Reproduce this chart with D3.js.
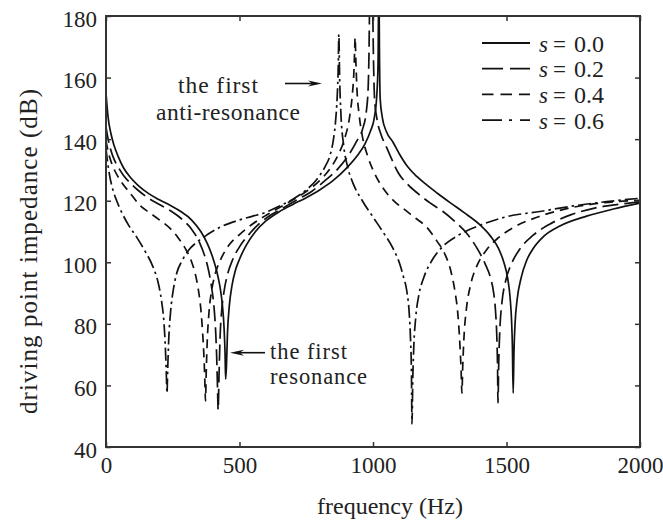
<!DOCTYPE html>
<html>
<head>
<meta charset="utf-8">
<script src="https://cdn.jsdelivr.net/npm/d3@7"></script>
<style>
  body { margin: 0; background: #fff; }
  svg { display: block; }
  text { font-family: "Liberation Serif", "Times New Roman", serif; fill: #222; }
</style>
</head>
<body>
<svg id="chart" width="663" height="521"></svg>
<script>
// Axis ticks
const freqTicks = [0, 500, 1000, 1500, 2000];
const dbTicks = [40, 60, 80, 100, 120, 140, 160, 180];

// Legend entries (value of s for each curve)
const sValues = ["0.0", "0.2", "0.4", "0.6"];

// s = 0.0 : frequency (Hz) and driving point impedance (dB)
const freqS0 = [0,8,18,30,45,65,90,120,160,200,240,280,320,355,380,400,415,427,436,442,
  446,448,451,455,462,472,485,500,525,560,600,650,700,750,800,850,900,940,970,990,
  1005,1014,1019,1022,1024,1027,1035,1050,1075,1100,1130,1165,1200,1240,1290,1340,1400,1440,1470,1490,
  1505,1514,1519,1522,1525,1528,1532,1540,1555,1575,1600,1640,1700,1800,1900,2000];
const dbS0 = [155,147,142,138,134.5,130.8,127.7,125,122.3,120.3,118.5,116.5,113.8,110,106,101.5,97,92,86,79,
  70,62,66,77,86,92.5,97.5,101,105.5,110,113.5,116.5,118.8,121,123.5,126.5,130.5,134.5,138.5,142.5,
  147,154,165,195,170,153,147,142.5,139,135,131,127.8,125.2,122.5,119.3,116.2,112.2,108.5,104.5,100,
  94.5,88,81,73,57.5,71,80,88,95,100.5,104.5,108.5,111.8,115,117.3,119.2];

// s = 0.2
const freqS2 = [0,8,18,30,45,65,90,120,160,200,240,280,320,350,370,385,397,405,411,415,
  418,420,423,427,433,442,455,475,500,540,580,620,670,720,770,820,870,910,940,960,
  975,982,985,987,993,999,1002,1006,1015,1030,1050,1065,1095,1130,1170,1215,1262,1310,1350,1390,
  1420,1440,1452,1459,1464,1466.5,1468,1471,1475,1483,1497,1520,1550,1600,1660,1740,1830,1920,2000];
const dbS2 = [144,140,136.5,133.5,131,128.3,125.8,123.4,120.8,118.8,116.8,114.3,110.8,106.5,102,97,91,85,77,68,
  58,52,62,75,84,90.5,96,101,105,109.5,113,115.5,118,120.5,123,126.5,130.5,135,139.5,143,
  149,157,168,182,200,182,165,153,146.5,141.5,137.5,134.5,129,125.3,122.2,119.2,116.5,113,109.5,104.5,
  99.5,95,90,84,75,66,54.3,68,78,87,94,99.8,104.3,108.8,112.3,115.4,117.6,118.8,119.6];

// s = 0.4
const freqS4 = [0,8,18,30,45,65,90,127,165,200,240,270,300,320,335,347,356,362,367,370,
  372.7,375,379,386,396,410,430,460,500,550,600,650,700,750,800,840,870,895,912,922,
  928,931,933,936,940,948,960,980,1005,1040,1080,1120,1160,1200,1240,1270,1292,1307,1318,1325,
  1330,1333,1336,1341,1350,1365,1390,1425,1470,1530,1620,1730,1860,2000];
const dbS4 = [139.5,136,133,130.3,127.8,125.2,122.5,118.5,116,113.8,111,108,104,100.3,96,90.5,84,77,69,62,
  55,63,74,84,91,96.5,101,105.5,109,112.5,115.3,117.8,120.3,123,126.5,130.5,135,140.5,147,154,
  161,168,173,165,156,148,141,134.5,129,123.8,119.8,117,114.3,111.5,106.8,102.5,97,90.5,83,74,
  65,57.5,66,76,85,92.5,99,104,108,111.5,114.8,117.5,119.3,120.1];

// s = 0.6
const freqS6 = [0,6,14,26,40,60,85,116,145,176,195,208,217,222,225.5,228.5,231,235,242,252,
  265,285,310,340,380,430,490,550,600,650,700,750,790,820,840,852,860,866,870,872,
  875,880,890,905,925,960,1000,1040,1075,1100,1115,1127,1136,1141,1144,1146,1149,1153,1160,1172,
  1190,1220,1260,1320,1400,1500,1625,1750,1875,2000];
const dbS6 = [137,132.5,128,123.5,120,116,112,108,103.8,98.5,93.5,87.5,80.5,73,65,57.5,65,75,84,91,
  96.5,100.5,104,106.5,109,111.5,113.5,115,116.3,118.3,120.5,123.5,127,131,135,140,146,154,164,174,
  160,148,138,131,125.7,120,114.7,109.5,104.5,99.5,95,90.5,83,74,64,47.5,62,73,82,89.5,
  95,100.5,105,108.8,112,114.8,116.5,118.3,119.7,120.8];

const series = [
  { s: sValues[0], pts: d3.zip(freqS0, dbS0), dash: null,           legendDash: null },
  { s: sValues[1], pts: d3.zip(freqS2, dbS2), dash: "16,6",         legendDash: "21,7" },
  { s: sValues[2], pts: d3.zip(freqS4, dbS4), dash: "9,6",          legendDash: "11.5,7" },
  { s: sValues[3], pts: d3.zip(freqS6, dbS6), dash: "13,4,2.5,4",   legendDash: "20,7,3,8" }
];

const svg = d3.select("#chart");
const plotLeft = 106, plotRight = 640, plotTop = 16, plotBottom = 447;

const x = d3.scaleLinear().domain([0, 2000]).range([plotLeft, plotRight]);
const y = d3.scaleLinear().domain([40, 180]).range([plotBottom, plotTop]);

svg.append("defs").append("clipPath").attr("id", "plot-clip")
  .append("rect").attr("x", plotLeft).attr("y", plotTop)
  .attr("width", plotRight - plotLeft).attr("height", plotBottom - plotTop);

// Curves
const line = d3.line()
  .x(d => x(d[0]))
  .y(d => y(d[1]))
  .curve(d3.curveMonotoneX);

svg.append("g").attr("clip-path", "url(#plot-clip)")
  .selectAll("path").data(series).join("path")
  .attr("d", d => line(d.pts))
  .attr("fill", "none")
  .attr("stroke", "#111")
  .attr("stroke-width", 1.7)
  .attr("stroke-dasharray", d => d.dash);

// Axes with inward ticks
const tickFont = 23;
function styleAxis(g) {
  g.select(".domain").remove();
  g.selectAll(".tick line").attr("stroke", "#333").attr("stroke-width", 1.5);
  g.selectAll(".tick text").attr("font-size", tickFont).attr("fill", "#222")
    .attr("font-family", "Liberation Serif, serif");
}

svg.append("g").attr("transform", `translate(0,${plotBottom})`)
  .call(d3.axisBottom(x).tickValues(freqTicks).tickSize(-5).tickPadding(10).tickFormat(d3.format("d")))
  .call(styleAxis);

svg.append("g").attr("transform", `translate(${plotLeft},0)`)
  .call(d3.axisLeft(y).tickValues(dbTicks).tickSize(-5).tickPadding(9).tickFormat(d3.format("d")))
  .call(styleAxis)
  .call(g => g.selectAll(".tick text").attr("dy", "0.44em"));

svg.append("g").attr("transform", `translate(0,${plotTop})`)
  .call(d3.axisTop(x).tickValues(freqTicks).tickSize(-5).tickFormat(""))
  .call(styleAxis);

svg.append("g").attr("transform", `translate(${plotRight},0)`)
  .call(d3.axisRight(y).tickValues(dbTicks).tickSize(-5).tickFormat(""))
  .call(styleAxis);

// Frame
svg.append("rect")
  .attr("x", plotLeft).attr("y", plotTop)
  .attr("width", plotRight - plotLeft).attr("height", plotBottom - plotTop)
  .attr("fill", "none").attr("stroke", "#333").attr("stroke-width", 2);

// Axis titles
svg.append("text")
  .attr("x", 390).attr("y", 514)
  .attr("text-anchor", "middle")
  .attr("font-size", 24)
  .text("frequency (Hz)");

svg.append("text")
  .attr("transform", "translate(37,251.5) rotate(-90)")
  .attr("text-anchor", "middle")
  .attr("font-size", 25)
  .attr("textLength", 325).attr("lengthAdjust", "spacing")
  .text("driving point impedance (dB)");

// Legend
const legend = svg.append("g");
const rowY = i => 43 + i * 25.7;
series.forEach((d, i) => {
  legend.append("line")
    .attr("x1", 482).attr("x2", 530)
    .attr("y1", rowY(i)).attr("y2", rowY(i))
    .attr("stroke", "#111").attr("stroke-width", 1.8)
    .attr("stroke-dasharray", d.legendDash);
  legend.append("text").attr("x", 539).attr("y", rowY(i) + 8.5)
    .attr("font-size", 23).attr("font-style", "italic").text("s");
  legend.append("text").attr("x", 553).attr("y", rowY(i) + 8.5)
    .attr("font-size", 23).text("=");
  legend.append("text").attr("x", 574).attr("y", rowY(i) + 8.5)
    .attr("font-size", 24)
    .text(d.s);
});

// Annotations
function arrow(x1, x2, yy) {
  const dir = Math.sign(x2 - x1);
  const headLen = 14, halfW = 3;
  svg.append("line")
    .attr("x1", x1).attr("x2", x2 - dir * headLen * 0.6)
    .attr("y1", yy).attr("y2", yy)
    .attr("stroke", "#111").attr("stroke-width", 1.6);
  svg.append("path")
    .attr("d", `M${x2},${yy} L${x2 - dir * headLen},${yy - halfW} L${x2 - dir * headLen * 0.7},${yy} L${x2 - dir * headLen},${yy + halfW} Z`)
    .attr("fill", "#111");
}

svg.append("text").attr("x", 178).attr("y", 92.5).attr("font-size", 23.5)
  .attr("textLength", 80).attr("lengthAdjust", "spacing").text("the first");
svg.append("text").attr("x", 156).attr("y", 119.5).attr("font-size", 23.5)
  .attr("textLength", 144).attr("lengthAdjust", "spacing").text("anti-resonance");
arrow(285, 322, 83.5);

svg.append("text").attr("x", 270).attr("y", 359).attr("font-size", 22.5)
  .attr("textLength", 77).attr("lengthAdjust", "spacing").text("the first");
svg.append("text").attr("x", 270).attr("y", 384).attr("font-size", 22.5)
  .attr("textLength", 97).attr("lengthAdjust", "spacing").text("resonance");
arrow(265, 230, 352.7);
</script>
</body>
</html>
